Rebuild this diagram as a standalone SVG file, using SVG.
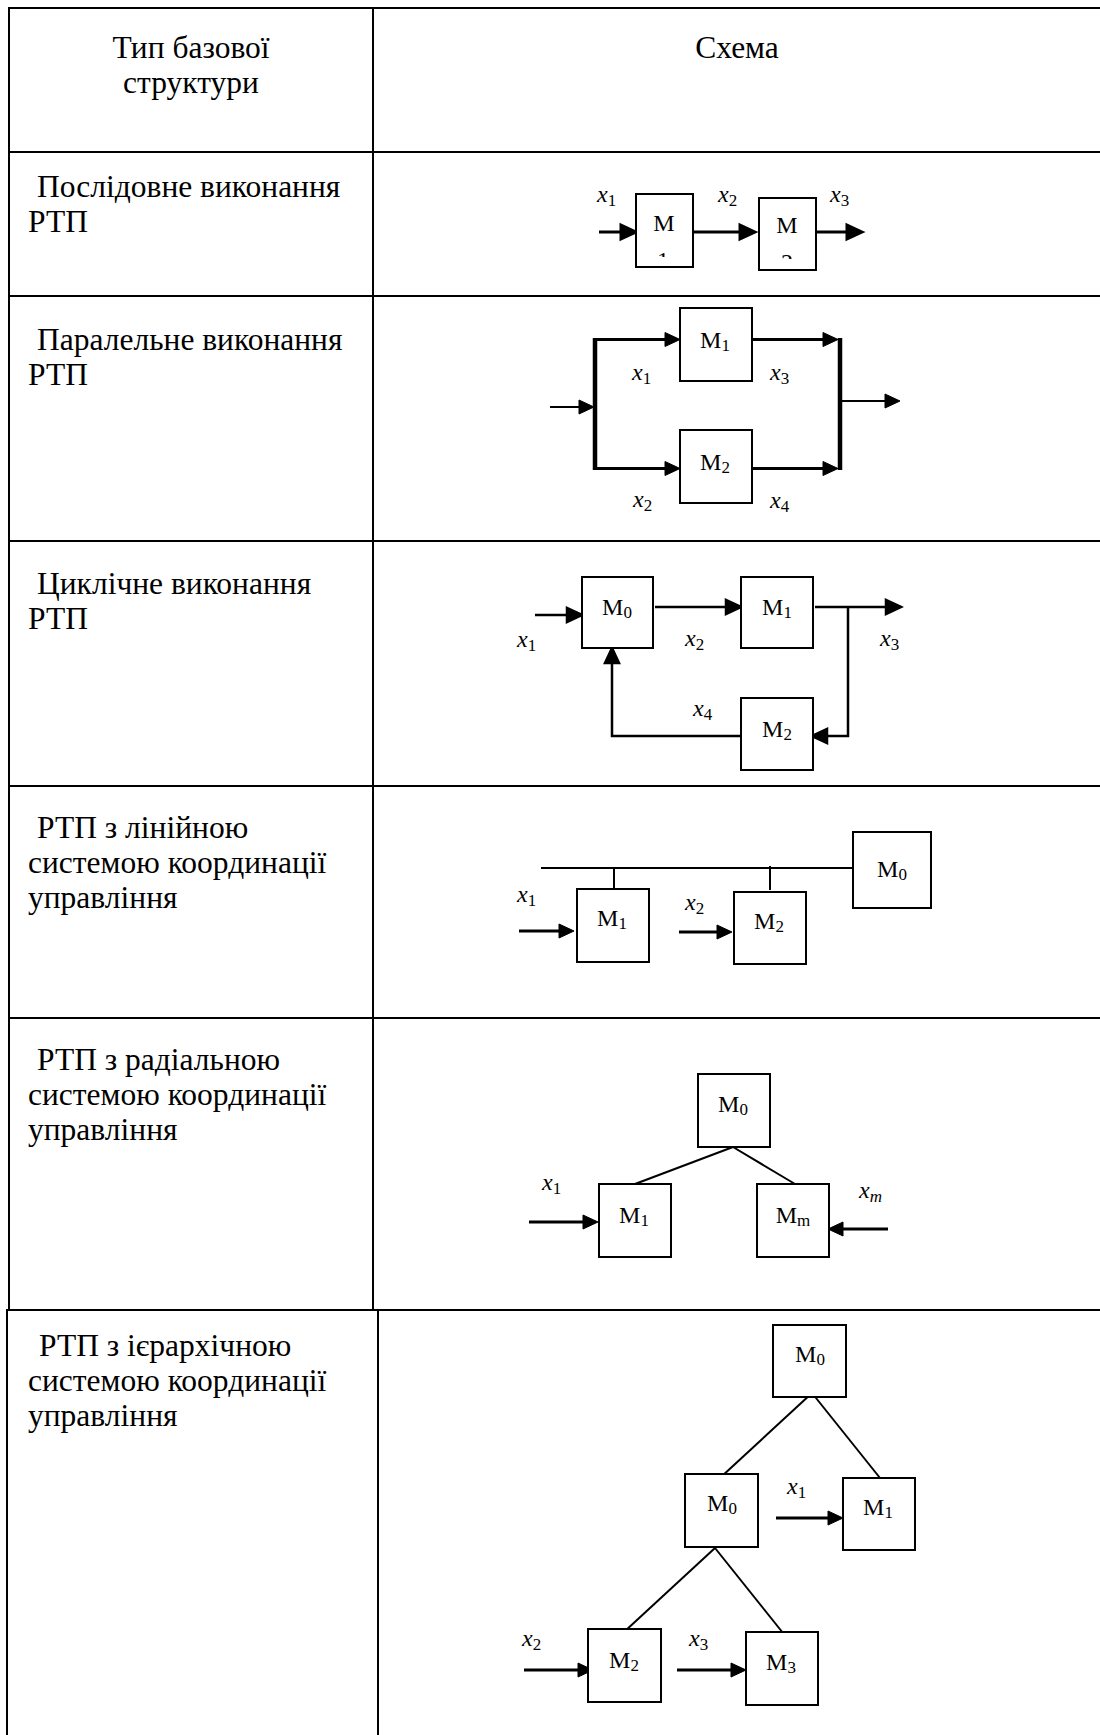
<svg xmlns="http://www.w3.org/2000/svg" xmlns:xlink="http://www.w3.org/1999/xlink" width="1100" height="1735" viewBox="0 0 1100 1735">
  <style>
    .grid { stroke: #000; stroke-width: 2; fill: none; }
    .box { fill: #fff; stroke: #000; stroke-width: 2; }
    .ln { stroke: #000; fill: none; }
    .cell { font-family: "Liberation Serif", "Times New Roman", serif; font-size: 31.5px; fill: #000; }
    .hdr { text-anchor: middle; }
    .m { font-family: "Liberation Serif", "Times New Roman", serif; font-size: 24px; fill: #000; text-anchor: middle; }
    .x { font-family: "Liberation Serif", "Times New Roman", serif; font-size: 24px; fill: #000; }
    .sub { font-size: 17px; }
    .it { font-style: italic; }
  </style>
  <defs>
    <!-- filled arrowhead, tip at the origin, pointing along +x -->
    <path id="ah" d="M0,0 L-15,-7 L-15,7 Z" fill="#000"/>
    <clipPath id="clipA"><rect x="650" y="253" width="30" height="4"/></clipPath>
    <clipPath id="clipB"><rect x="774" y="255" width="30" height="4"/></clipPath>
  </defs>

  <rect width="1100" height="1735" fill="#fff"/>

  <!-- table grid -->
  <g id="table">
    <line class="grid" x1="8" y1="8" x2="1100" y2="8"/>
    <line class="grid" x1="8" y1="152" x2="1100" y2="152"/>
    <line class="grid" x1="8" y1="296" x2="1100" y2="296"/>
    <line class="grid" x1="8" y1="541" x2="1100" y2="541"/>
    <line class="grid" x1="8" y1="786" x2="1100" y2="786"/>
    <line class="grid" x1="8" y1="1018" x2="1100" y2="1018"/>
    <line class="grid" x1="6" y1="1310" x2="1100" y2="1310"/>
    <line class="grid" x1="9" y1="7" x2="9" y2="1310"/>
    <line class="grid" x1="373" y1="7" x2="373" y2="1310"/>
    <line class="grid" x1="7" y1="1310" x2="7" y2="1735"/>
    <line class="grid" x1="378" y1="1310" x2="378" y2="1735"/>
  </g>

  <!-- header and row captions -->
  <g id="captions">
    <text class="cell hdr" x="191" y="58">Тип базової</text>
    <text class="cell hdr" x="191" y="93">структури</text>
    <text class="cell hdr" x="737" y="58">Схема</text>

    <text class="cell" x="37" y="197">Послідовне виконання</text>
    <text class="cell" x="28" y="232">РТП</text>

    <text class="cell" x="37" y="350">Паралельне виконання</text>
    <text class="cell" x="28" y="385">РТП</text>

    <text class="cell" x="37" y="594">Циклічне виконання</text>
    <text class="cell" x="28" y="629">РТП</text>

    <text class="cell" x="37" y="838">РТП з лінійною</text>
    <text class="cell" x="28" y="873">системою координації</text>
    <text class="cell" x="28" y="908">управління</text>

    <text class="cell" x="37" y="1070">РТП з радіальною</text>
    <text class="cell" x="28" y="1105">системою координації</text>
    <text class="cell" x="28" y="1140">управління</text>

    <text class="cell" x="39" y="1356">РТП з ієрархічною</text>
    <text class="cell" x="28" y="1391">системою координації</text>
    <text class="cell" x="28" y="1426">управління</text>
  </g>

  <!-- connectors -->
  <g id="connectors">
    <!-- sequential -->
    <g id="c-seq" class="ln" stroke-width="3">
      <line x1="599" y1="232" x2="626" y2="232"/>
      <line x1="693" y1="232" x2="745" y2="232"/>
      <line x1="816" y1="232" x2="852" y2="232"/>
      <use xlink:href="#ah" href="#ah" x="636" y="232"/>
      <use xlink:href="#ah" href="#ah" x="755" y="232"/>
      <use xlink:href="#ah" href="#ah" x="862" y="232"/>
    </g>
    <!-- parallel -->
    <g id="c-par" class="ln">
      <line x1="595" y1="338" x2="595" y2="470" stroke-width="4.5"/>
      <line x1="840" y1="338" x2="840" y2="470" stroke-width="4.5"/>
      <line x1="550" y1="407" x2="584" y2="407" stroke-width="2"/>
      <line x1="595" y1="339.5" x2="670" y2="339.5" stroke-width="3"/>
      <line x1="595" y1="468.5" x2="670" y2="468.5" stroke-width="3"/>
      <line x1="752" y1="339.5" x2="828" y2="339.5" stroke-width="3"/>
      <line x1="752" y1="468.5" x2="828" y2="468.5" stroke-width="3"/>
      <line x1="840" y1="401" x2="890" y2="401" stroke-width="2"/>
      <use xlink:href="#ah" href="#ah" x="594" y="407"/>
      <use xlink:href="#ah" href="#ah" x="680" y="339.5"/>
      <use xlink:href="#ah" href="#ah" x="680" y="468.5"/>
      <use xlink:href="#ah" href="#ah" x="838" y="339.5"/>
      <use xlink:href="#ah" href="#ah" x="838" y="468.5"/>
      <use xlink:href="#ah" href="#ah" x="900" y="401"/>
    </g>
    <!-- cyclic -->
    <g id="c-cyc" class="ln" stroke-width="2.5">
      <line x1="535" y1="615" x2="572" y2="615"/>
      <line x1="655" y1="607" x2="731" y2="607"/>
      <line x1="815" y1="607" x2="891" y2="607"/>
      <polyline points="848,607 848,736 823,736"/>
      <polyline points="741,736 612,736 612,658"/>
      <use xlink:href="#ah" href="#ah" x="582" y="615"/>
      <use xlink:href="#ah" href="#ah" x="741" y="607"/>
      <use xlink:href="#ah" href="#ah" x="901" y="607"/>
      <use xlink:href="#ah" href="#ah" transform="translate(812,736) rotate(180)"/>
      <use xlink:href="#ah" href="#ah" transform="translate(612,648) rotate(-90)"/>
    </g>
    <!-- linear coordination -->
    <g id="c-lin" class="ln">
      <line x1="541" y1="868" x2="853" y2="868" stroke-width="2"/>
      <line x1="614" y1="868" x2="614" y2="892" stroke-width="2"/>
      <line x1="770" y1="866" x2="770" y2="890" stroke-width="2"/>
      <line x1="519" y1="931" x2="562" y2="931" stroke-width="3"/>
      <line x1="679" y1="932" x2="722" y2="932" stroke-width="3"/>
      <use xlink:href="#ah" href="#ah" x="574" y="931"/>
      <use xlink:href="#ah" href="#ah" x="732" y="932"/>
    </g>
    <!-- radial coordination -->
    <g id="c-rad" class="ln">
      <line x1="733" y1="1147" x2="635" y2="1184" stroke-width="2"/>
      <line x1="733" y1="1147" x2="795" y2="1184" stroke-width="2"/>
      <line x1="529" y1="1222" x2="588" y2="1222" stroke-width="3"/>
      <line x1="888" y1="1229" x2="838" y2="1229" stroke-width="3"/>
      <use xlink:href="#ah" href="#ah" x="598" y="1222"/>
      <use xlink:href="#ah" href="#ah" transform="translate(828,1229) rotate(180)"/>
    </g>
    <!-- hierarchical coordination -->
    <g id="c-hier" class="ln">
      <line x1="812" y1="1393" x2="721" y2="1477" stroke-width="2"/>
      <line x1="812" y1="1393" x2="880" y2="1478" stroke-width="2"/>
      <line x1="715" y1="1548" x2="624" y2="1632" stroke-width="2"/>
      <line x1="715" y1="1548" x2="783" y2="1633" stroke-width="2"/>
      <line x1="776" y1="1518" x2="833" y2="1518" stroke-width="3"/>
      <line x1="524" y1="1670" x2="583" y2="1670" stroke-width="3"/>
      <line x1="677" y1="1670" x2="736" y2="1670" stroke-width="3"/>
      <use xlink:href="#ah" href="#ah" x="843" y="1518"/>
      <use xlink:href="#ah" href="#ah" x="593" y="1670"/>
      <use xlink:href="#ah" href="#ah" x="746" y="1670"/>
    </g>
  </g>

  <!-- sequential execution -->
  <g id="seq-m1">
    <rect class="box" x="636" y="194" width="57" height="73"/>
    <text class="m" x="664" y="231">М</text>
    <text class="m" x="663" y="267.5" font-size="20" clip-path="url(#clipA)">1</text>
  </g>
  <g id="seq-m2">
    <rect class="box" x="759" y="198" width="57" height="72"/>
    <text class="m" x="787" y="233">М</text>
    <text class="m" x="787" y="269.5" font-size="20" clip-path="url(#clipB)">2</text>
  </g>
  <g id="seq-labels">
    <text class="x" x="597" y="202"><tspan class="it">x</tspan><tspan class="sub" dy="4">1</tspan></text>
    <text class="x" x="718" y="202"><tspan class="it">x</tspan><tspan class="sub" dy="4">2</tspan></text>
    <text class="x" x="830" y="202"><tspan class="it">x</tspan><tspan class="sub" dy="4">3</tspan></text>
  </g>

  <!-- parallel execution -->
  <g id="par-m1">
    <rect class="box" x="680" y="308" width="72" height="73"/>
    <text class="m" x="715" y="348">М<tspan class="sub" dy="3">1</tspan></text>
  </g>
  <g id="par-m2">
    <rect class="box" x="680" y="430" width="72" height="73"/>
    <text class="m" x="715" y="470">М<tspan class="sub" dy="3">2</tspan></text>
  </g>
  <g id="par-labels">
    <text class="x" x="632" y="380"><tspan class="it">x</tspan><tspan class="sub" dy="4">1</tspan></text>
    <text class="x" x="770" y="380"><tspan class="it">x</tspan><tspan class="sub" dy="4">3</tspan></text>
    <text class="x" x="633" y="507"><tspan class="it">x</tspan><tspan class="sub" dy="4">2</tspan></text>
    <text class="x" x="770" y="508"><tspan class="it">x</tspan><tspan class="sub" dy="4">4</tspan></text>
  </g>

  <!-- cyclic execution -->
  <g id="cyc-m0">
    <rect class="box" x="582" y="577" width="71" height="71"/>
    <text class="m" x="617" y="615">М<tspan class="sub" dy="3">0</tspan></text>
  </g>
  <g id="cyc-m1">
    <rect class="box" x="741" y="577" width="72" height="71"/>
    <text class="m" x="777" y="615">М<tspan class="sub" dy="3">1</tspan></text>
  </g>
  <g id="cyc-m2">
    <rect class="box" x="741" y="698" width="72" height="72"/>
    <text class="m" x="777" y="737">М<tspan class="sub" dy="3">2</tspan></text>
  </g>
  <g id="cyc-labels">
    <text class="x" x="517" y="647"><tspan class="it">x</tspan><tspan class="sub" dy="4">1</tspan></text>
    <text class="x" x="685" y="646"><tspan class="it">x</tspan><tspan class="sub" dy="4">2</tspan></text>
    <text class="x" x="880" y="646"><tspan class="it">x</tspan><tspan class="sub" dy="4">3</tspan></text>
    <text class="x" x="693" y="716"><tspan class="it">x</tspan><tspan class="sub" dy="4">4</tspan></text>
  </g>

  <!-- linear coordination -->
  <g id="lin-m0">
    <rect class="box" x="853" y="832" width="78" height="76"/>
    <text class="m" x="892" y="877">М<tspan class="sub" dy="3">0</tspan></text>
  </g>
  <g id="lin-m1">
    <rect class="box" x="577" y="889" width="72" height="73"/>
    <text class="m" x="612" y="926">М<tspan class="sub" dy="3">1</tspan></text>
  </g>
  <g id="lin-m2">
    <rect class="box" x="734" y="892" width="72" height="72"/>
    <text class="m" x="769" y="929">М<tspan class="sub" dy="3">2</tspan></text>
  </g>
  <g id="lin-labels">
    <text class="x" x="517" y="902"><tspan class="it">x</tspan><tspan class="sub" dy="4">1</tspan></text>
    <text class="x" x="685" y="910"><tspan class="it">x</tspan><tspan class="sub" dy="4">2</tspan></text>
  </g>

  <!-- radial coordination -->
  <g id="rad-m0">
    <rect class="box" x="698" y="1074" width="72" height="73"/>
    <text class="m" x="733" y="1112">М<tspan class="sub" dy="3">0</tspan></text>
  </g>
  <g id="rad-m1">
    <rect class="box" x="599" y="1184" width="72" height="73"/>
    <text class="m" x="634" y="1223">М<tspan class="sub" dy="3">1</tspan></text>
  </g>
  <g id="rad-mm">
    <rect class="box" x="757" y="1184" width="72" height="73"/>
    <text class="m" x="793" y="1223">М<tspan class="sub" dy="3">m</tspan></text>
  </g>
  <g id="rad-labels">
    <text class="x" x="542" y="1190"><tspan class="it">x</tspan><tspan class="sub" dy="4">1</tspan></text>
    <text class="x" x="859" y="1198"><tspan class="it">x</tspan><tspan class="sub it" dy="4">m</tspan></text>
  </g>

  <!-- hierarchical coordination -->
  <g id="hier-m0-top">
    <rect class="box" x="773" y="1325" width="73" height="72"/>
    <text class="m" x="810" y="1362">М<tspan class="sub" dy="3">0</tspan></text>
  </g>
  <g id="hier-m0-mid">
    <rect class="box" x="685" y="1474" width="73" height="73"/>
    <text class="m" x="722" y="1511">М<tspan class="sub" dy="3">0</tspan></text>
  </g>
  <g id="hier-m1">
    <rect class="box" x="843" y="1478" width="72" height="72"/>
    <text class="m" x="878" y="1515">М<tspan class="sub" dy="3">1</tspan></text>
  </g>
  <g id="hier-m2">
    <rect class="box" x="588" y="1629" width="73" height="73"/>
    <text class="m" x="624" y="1668">М<tspan class="sub" dy="3">2</tspan></text>
  </g>
  <g id="hier-m3">
    <rect class="box" x="746" y="1632" width="72" height="73"/>
    <text class="m" x="781" y="1670">М<tspan class="sub" dy="3">3</tspan></text>
  </g>
  <g id="hier-labels">
    <text class="x" x="787" y="1494"><tspan class="it">x</tspan><tspan class="sub" dy="4">1</tspan></text>
    <text class="x" x="522" y="1646"><tspan class="it">x</tspan><tspan class="sub" dy="4">2</tspan></text>
    <text class="x" x="689" y="1646"><tspan class="it">x</tspan><tspan class="sub" dy="4">3</tspan></text>
  </g>
</svg>
